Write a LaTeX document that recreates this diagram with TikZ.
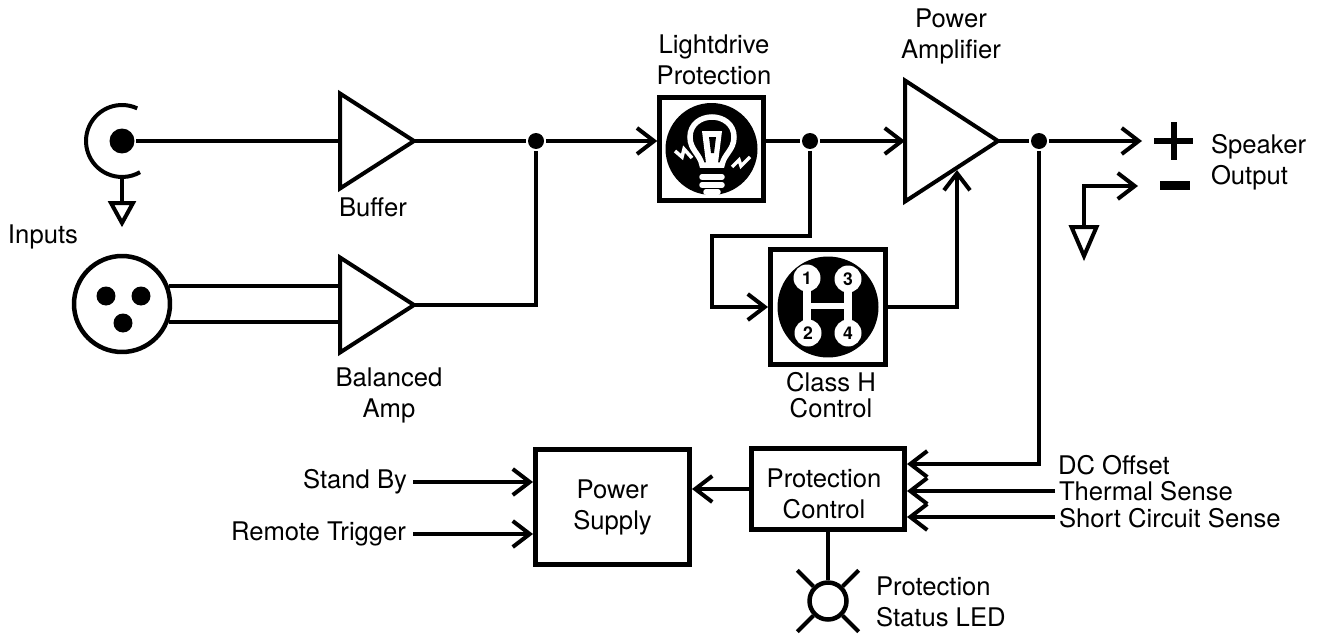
\documentclass[tikz,border=0pt]{standalone}
\usepackage{fontspec}
\setmainfont{TeX Gyre Heros}
\usetikzlibrary{shapes.geometric,arrows.meta}

\begin{document}
\begin{tikzpicture}[x=0.02cm, y=-0.02cm, line width=0.08cm, >={Straight Barb[length=0.34cm,width=0.52cm]},
        label/.style = {font=\fontsize{14.6}{17.6}\selectfont, align=center, inner sep=0pt},
        main/.style = {draw, rectangle, line width=0.1cm, inner sep=0pt, label},
        amp/.style = {draw, isosceles triangle, isosceles triangle stretches, inner sep=0pt, outer sep=0pt},
        ground/.style = {amp, shape border rotate=270},
        dot/.style = {circle, fill=black, inner sep=0pt, minimum size=0.32cm},
        pin/.style = {circle, fill=black, inner sep=0pt, minimum size=0.38cm},
        disc/.style = {circle, fill=black, inner sep=0pt},
        gear/.style = {circle, fill=white, inner sep=0pt, minimum size=0.54cm, font=\fontsize{10}{10}\selectfont\bfseries},
        glow/.style = {white, line width=0.11cm}]
        \useasboundingbox (0,0) rectangle (1321,635);

        % inputs
        \node[dot, minimum size=0.5cm] (jack) at (122,141) {};
        \node[circle, minimum size=1.44cm, inner sep=0pt, outer sep=0pt] (jackring) at (122,141) {};
        \draw (jackring.65) arc[start angle=65, end angle=300, radius=0.72cm];
        \node[ground, minimum width=0.44cm, minimum height=0.4cm, anchor=apex] (jackgnd) at (122,223) {};
        \node[draw, circle, minimum size=1.92cm, inner sep=0pt, line width=0.09cm] (xlr) at (122,304) {};
        \node[pin] (pin1) at (106,296) {};
        \node[pin] (pin2) at (141,296) {};
        \node[pin] (pin3) at (123,323) {};
        \node[label] (inputs) at (43,236.5) {Inputs};

        % amps
        \node[amp, minimum width=1.9cm, minimum height=1.48cm, anchor=apex] (buffer) at (414,141) {};
        \node[amp, minimum width=1.9cm, minimum height=1.48cm, anchor=apex] (balanced) at (414,305) {};
        \node[amp, minimum width=2.42cm, minimum height=1.86cm, anchor=apex] (power) at (998,141) {};
        \node[label] (bufferlabel) at (373,207) {Buffer};
        \node[label] (balancedlabel) at (389,395) {Balanced\\Amp};
        \node[label] (powerlabel) at (951,36) {Power\\Amplifier};

        % lightdrive
        \node[main, minimum width=2.07cm, minimum height=2.05cm] (lightdrive) at (711.5,149) {};
        \node[disc, minimum size=1.84cm] (bulbdisc) at (711.5,149) {};
        \node[label] (lightdrivelabel) at (714,60) {Lightdrive\\Protection};
        \draw[glow] (702,165) .. controls (700,154) and (690,150) .. (690,137) .. controls (690,124) and (701,117) .. (712,117) .. controls (723,117) and (734,124) .. (734,137) .. controls (734,150) and (724,154) .. (722,165) -- cycle;
        \fill[white] (702,131) -- (722,131) -- (718,163) -- (706,163) -- cycle;
        \fill[black] (709,137) -- (716,137) -- (714,153) -- (711,153) -- cycle;
        \draw[glow, line cap=round] (702,177) -- (722,177);
        \draw[glow, line cap=round] (702,185) -- (722,185);
        \draw[glow, line cap=round] (706,192) -- (718,192);
        \draw[white, line width=0.07cm] (675,151) -- (682,157) -- (684,149) -- (692,158);
        \draw[white, line width=0.07cm] (732,167) -- (739,160) -- (741,166) -- (750,157);

        % class h
        \node[main, minimum width=2.3cm, minimum height=2.3cm] (classh) at (828,307) {};
        \node[disc, minimum size=2.02cm] (geardisc) at (828,307) {};
        \draw[white, line width=0.15cm] (807,278) -- (807,333);
        \draw[white, line width=0.15cm] (848,278) -- (848,333);
        \draw[white, line width=0.13cm] (807,306) -- (848,306);
        \node[gear] (gear1) at (807,278) {1};
        \node[gear] (gear3) at (848,279) {3};
        \node[gear] (gear2) at (808,333) {2};
        \node[gear] (gear4) at (848,333) {4};
        \node[label] (classhlabel) at (831,395) {Class H\\[-0.1cm]Control};

        % speaker
        \draw[line width=0.12cm] (1154,141) -- (1193,141);
        \draw[line width=0.12cm] (1174,122) -- (1174,160);
        \node[fill=black, minimum width=0.6cm, minimum height=0.18cm, inner sep=0pt] (minus) at (1175,185.5) {};
        \node[label, align=left, anchor=west] (speakerlabel) at (1209,162) {Speaker\\Output};
        \node[ground, minimum width=0.5cm, minimum height=0.58cm, anchor=apex] (speakergnd) at (1084,256) {};
        \coordinate (plustip) at (1142,141);
        \coordinate (minustip) at (1138,186);

        % protection
        \node[main, minimum width=3.08cm, minimum height=2.32cm] (supply) at (612.5,507) {Power\\Supply};
        \node[main, minimum width=3.06cm, minimum height=1.62cm] (protection) at (828,489) {};
        \node[label] (protectionlabel) at (824,494) {Protection\\Control};
        \node[draw, circle, minimum size=0.74cm, inner sep=0pt, line width=0.09cm] (led) at (828,601) {};
        \node[label, align=left, anchor=west] (ledlabel) at (874,602) {Protection\\Status LED};
        \node[label, anchor=east] (standby) at (409,482) {Stand By};
        \node[label, anchor=east] (remote) at (408,534) {Remote Trigger};
        \node[label, anchor=west] (dcoffset) at (1056,465) {DC Offset};
        \node[label, anchor=west] (thermal) at (1057,491) {Thermal Sense};
        \node[label, anchor=west] (short) at (1057,518) {Short Circuit Sense};

        % junctions
        \node[dot] (split) at (536,141) {};
        \node[dot] (tap) at (810,141) {};
        \node[dot] (out) at (1039,141) {};
        \coordinate (tapdown) at (810,236);
        \coordinate (tapleft) at (712,236);
        \coordinate (classhup) at (957,170);
        \coordinate (offsetin) at (907,464);
        \coordinate (thermalin) at (1055,491);
        \coordinate (shortin) at (1055,517);
        \coordinate (standbyin) at (413,482);
        \coordinate (remotein) at (413,534);

        \draw (jack) -- (buffer.lower side);
        \draw (jackring.south) -- (jackgnd.lower side);
        \draw (xlr.21) -- (xlr.21 -| balanced.lower side);
        \draw (xlr.-21) -- (xlr.-21 -| balanced.lower side);

        \draw (buffer.apex) -- (split);
        \draw (balanced.apex) -| (split);
        \draw[->] (split) -- (split -| lightdrive.west);
        \draw (split -| lightdrive.east) -- (tap);
        \draw[->] (tap) -- (power.lower side);
        \draw (power.apex) -- (out);
        \draw[->] (out) -- (plustip);
        \draw[->] (speakergnd.lower side) |- (minustip);

        \draw[->] (tap) -- (tapdown) -- (tapleft) |- (classh.west);
        \draw[->] (classh.east) -| (classhup);

        \draw[->] (out) |- (offsetin);
        \draw[->] (thermalin) -- (thermalin -| protection.east);
        \draw[->] (shortin) -- (shortin -| protection.east);
        \draw[->] (protection.west) -- (protection.west -| supply.east);
        \draw[->] (standbyin) -- (standbyin -| supply.west);
        \draw[->] (remotein) -- (remotein -| supply.west);
        \draw (protection.south) -- (led.north);
        \draw (led.45) -- ++(16,-16);
        \draw (led.135) -- ++(-16,-16);
        \draw (led.225) -- ++(-16,16);
        \draw (led.-45) -- ++(16,16);
    \end{tikzpicture}
\end{document}
